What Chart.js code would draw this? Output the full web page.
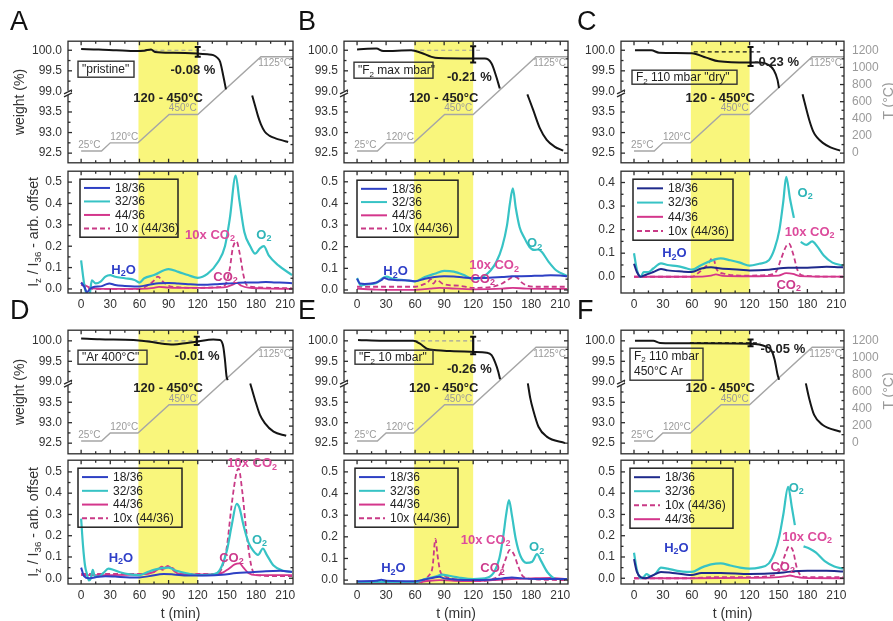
<!DOCTYPE html>
<html>
<head>
<meta charset="utf-8">
<script src="https://cdn.jsdelivr.net/npm/chart.js@4.4.0/dist/chart.umd.min.js"></script>
<style>
  body { margin: 0; background: #fff; width: 893px; height: 621px; position: relative; overflow: hidden;
         font-family: "Liberation Sans", Arial, Helvetica, sans-serif; color: #222; }
  canvas { position: absolute; }
  .txt { position: absolute; white-space: nowrap; line-height: 1; }
  .rot { position: absolute; white-space: nowrap; line-height: 1; font-size: 14px; color: #333;
         transform: translate(-50%, -50%) rotate(-90deg); }
  .ctr { position: absolute; white-space: nowrap; line-height: 1; font-size: 14px; color: #333;
         transform: translate(-50%, -50%); }
  sub { font-size: 70%; vertical-align: -3px; line-height: 0; }
</style>
</head>
<body>
<script>
// ---- shared axes / temperature programme ----
const X_MIN = -13.5, X_MAX = 218;
const X_TICKS = [0, 30, 60, 90, 120, 150, 180, 210];
const W_TICK_LABELS = ['92.5', '93.0', '93.5', '99.0', '99.5', '100.0'];
const T_TICKS = [0, 200, 400, 600, 800, 1000, 1200];
const TEMP_T = [0, 21, 30, 58.5, 90.5, 120, 185, 218];
const TEMP_C = [25, 25, 120, 120, 450, 450, 1125, 1125];
const BAND = [59, 120];

// ---- weight (%) vs t (min); null = axis break ----
const A_w = [[0,100.03],[18,100.02],[36,100.0],[57,99.98],[65,99.99],[72,100.02],[76,99.96],[95,99.94],[119,99.92],[130,99.9],[136,99.88],[140,99.82],[143,99.72],[146.5,99.35],[149,99.05],[160,null],[176,93.9],[179,93.65],[182,93.4],[185,93.2],[189,93.02],[194,92.92],[200,92.86],[207,92.81],[213,92.77]];
const B_w = [[0,100.02],[20,100.04],[27,99.98],[56,100.0],[66,99.94],[77,99.84],[84,99.81],[120,99.8],[132,99.8],[139,99.68],[144,99.35],[147.5,99.07],[160,null],[176,93.93],[182,93.55],[189,93.1],[196,92.82],[204,92.66],[213,92.56]];
const C_w = [[1,100.0],[18,100.0],[26,99.94],[60,99.93],[75,99.82],[88,99.73],[119,99.7],[131,99.7],[140,99.64],[145,99.52],[149,99.28],[150.5,99.08],[160,null],[175,93.93],[178,93.65],[182,93.3],[186,93.03],[190,92.88],[196,92.75],[204,92.64],[214,92.56]];
const D_w = [[0,100.06],[19,100.04],[54,100.02],[71,99.98],[81,99.94],[95,99.91],[109,99.95],[119,99.98],[136,100.03],[143,100.02],[146.3,99.85],[148,99.53],[149.7,99.12],[150.8,99.04],[160,null],[174,93.96],[179,93.55],[184,93.19],[189,92.99],[198,92.78],[211,92.68]];
const E_w = [[1,100.02],[27,100.0],[58,100.0],[65,99.93],[72,99.81],[82,99.77],[96,99.75],[120,99.73],[134,99.71],[139,99.65],[142.6,99.48],[146,99.24],[147.8,99.06],[160,null],[176.5,93.96],[179,93.6],[182,93.31],[187.5,92.9],[196,92.66],[215,92.5]];
const F_w = [[1,100.0],[20,100.0],[27,99.95],[58,99.94],[120,99.93],[130,99.91],[137,99.86],[142.6,99.77],[146,99.54],[149,99.18],[150.6,99.05],[160,null],[178.4,93.96],[181.8,93.6],[187,93.19],[195.6,92.95],[214.6,92.78]];

// reference line [from, to, weight] and error bar [t, high, low]
const A_ref = [60, 128, 100.0],  A_err = [120, 100.08, 99.84];
const B_ref = [58, 127, 100.0],  B_err = [120, 100.1, 99.7];
const C_ref = [62, 131, 99.96],  C_err = [121, 100.08, 99.62];
const D_ref = [60, 125, 100.0],  D_err = [119, 100.1, 99.9];
const E_ref = [59, 128, 100.0],  E_err = [120, 100.1, 99.67];
const F_ref = [58, 131, 99.95],  F_err = [121, 100.03, 99.87];

// ---- MS signals I_z/I_36 vs t (min) ----
const A_18 = [[0,0.03],[3,0.012],[6,-0.015],[9,0.0],[14,0.01],[20,0.012],[25,0.02],[29,0.026],[35,0.018],[45,0.014],[55,0.012],[60,0.012],[70,0.02],[80,0.027],[90,0.028],[100,0.025],[110,0.022],[120,0.02],[130,0.02],[140,0.022],[150,0.025],[160,0.028],[170,0.03],[180,0.03],[190,0.032],[200,0.03],[210,0.029],[217,0.027]];
const A_32 = [[0,0.134],[2,0.06],[4,0.0],[7,-0.03],[9,-0.02],[11,0.04],[15,0.026],[20,0.034],[25,0.058],[30,0.065],[35,0.057],[45,0.05],[55,0.042],[60,0.03],[65,0.05],[75,0.065],[90,0.093],[100,0.08],[110,0.065],[120,0.052],[130,0.07],[141,0.127],[148,0.2],[153,0.33],[159,0.53],[163,0.41],[168,0.265],[174,0.2],[179,0.165],[184,0.19],[188,0.2],[193,0.157],[203,0.11],[217,0.065]];
const A_44 = [[0,0.03],[5,0.015],[10,0.005],[20,0.0],[40,0.0],[60,0.0],[75,0.005],[80,0.01],[90,0.006],[100,0.005],[120,0.005],[140,0.006],[150,0.01],[156,0.02],[160,0.028],[165,0.015],[172,0.006],[185,0.003],[217,0.0]];
const A_10x = [[0,0.02],[5,0.01],[10,0.0],[30,0.0],[60,0.0],[68,0.015],[74,0.035],[79,0.058],[84,0.035],[90,0.015],[100,0.008],[120,0.005],[140,0.008],[148,0.018],[153,0.096],[156,0.19],[160,0.222],[163,0.17],[167,0.065],[170,0.02],[180,0.008],[217,0.003]];

const B_18 = [[0,0.052],[3,0.03],[8,0.028],[15,0.03],[20,0.035],[25,0.045],[28,0.055],[33,0.048],[45,0.045],[55,0.043],[60,0.04],[70,0.052],[80,0.06],[90,0.063],[100,0.062],[110,0.058],[120,0.055],[130,0.055],[140,0.058],[150,0.06],[160,0.063],[170,0.064],[180,0.065],[190,0.066],[200,0.068],[210,0.067],[217,0.063]];
const B_32 = [[0,0.055],[4,0.02],[8,0.025],[15,0.028],[20,0.032],[25,0.05],[30,0.062],[38,0.05],[50,0.045],[60,0.04],[70,0.06],[80,0.075],[90,0.088],[100,0.085],[110,0.07],[120,0.05],[130,0.06],[138,0.09],[144,0.13],[150,0.2],[155,0.3],[158,0.4],[161,0.47],[164,0.38],[168,0.29],[173,0.24],[178,0.2],[183,0.185],[187,0.187],[191,0.175],[198,0.13],[206,0.09],[217,0.065]];
const B_44 = [[0,0.006],[20,0.002],[60,0.0],[75,0.006],[85,0.01],[95,0.008],[120,0.003],[150,0.006],[161,0.01],[175,0.006],[217,0.005]];
const B_10x = [[0,0.015],[30,0.015],[60,0.015],[68,0.025],[73,0.035],[76,0.05],[79,0.03],[82,0.045],[85,0.04],[88,0.03],[95,0.022],[105,0.02],[120,0.01],[140,0.015],[150,0.03],[157,0.05],[162,0.062],[166,0.055],[170,0.035],[176,0.02],[185,0.015],[217,0.015]];

const C_18 = [[0,0.055],[3,0.02],[7,0.0],[10,0.005],[15,0.012],[20,0.02],[28,0.033],[35,0.027],[50,0.022],[60,0.02],[70,0.035],[80,0.04],[90,0.035],[110,0.03],[120,0.027],[140,0.03],[160,0.038],[180,0.038],[200,0.042],[217,0.04]];
const C_32 = [[0,0.1],[3,0.03],[7,0.0],[10,0.02],[15,0.02],[20,0.035],[28,0.057],[35,0.05],[45,0.045],[55,0.035],[60,0.03],[70,0.05],[85,0.075],[90,0.078],[100,0.07],[110,0.06],[120,0.047],[130,0.055],[140,0.07],[146,0.12],[151,0.2],[155,0.32],[158,0.424],[162,0.33],[166,0.25],[170,null],[173,0.148],[179,0.135],[185,0.15],[190,0.13],[197,0.09],[206,0.06],[217,0.048]];
const C_44 = [[0,0.0],[60,0.0],[80,0.005],[85,0.01],[92,0.004],[120,0.002],[150,0.005],[158,0.015],[165,0.012],[172,0.003],[217,0.0]];
const C_10x = [[0,0.0],[60,0.0],[68,0.02],[76,0.05],[82,0.08],[86,0.03],[95,0.012],[110,0.005],[120,0.005],[140,0.008],[148,0.025],[153,0.08],[158,0.13],[161,0.14],[165,0.1],[170,0.025],[176,0.005],[217,0.0]];

const D_18 = [[0,0.05],[3,0.01],[8,0.0],[15,0.005],[25,0.01],[35,0.008],[50,0.004],[60,0.004],[70,0.01],[85,0.02],[95,0.018],[110,0.013],[130,0.013],[145,0.016],[160,0.025],[175,0.028],[190,0.033],[205,0.035],[217,0.03]];
const D_32 = [[0,0.28],[2,0.15],[4,0.06],[6,0.02],[8,-0.01],[10,0.0],[12,0.04],[14,0.01],[18,0.008],[23,0.025],[28,0.045],[33,0.04],[40,0.028],[50,0.018],[60,0.015],[70,0.032],[80,0.045],[90,0.05],[98,0.035],[110,0.022],[120,0.015],[130,0.016],[140,0.025],[145,0.06],[150,0.13],[155,0.25],[160,0.35],[163,0.33],[167,0.25],[172,0.17],[177,0.13],[182,0.11],[187,0.14],[191,0.11],[198,0.06],[208,0.035],[217,0.03]];
const D_44 = [[0,0.015],[10,0.015],[30,0.015],[60,0.018],[75,0.03],[80,0.045],[83,0.055],[86,0.045],[89,0.058],[92,0.05],[95,0.045],[100,0.02],[115,0.018],[135,0.018],[145,0.025],[152,0.045],[158,0.065],[163,0.07],[167,0.05],[172,0.025],[180,0.015],[217,0.015]];
const D_10x = [[0,0.02],[30,0.02],[60,0.02],[75,0.03],[80,0.05],[84,0.04],[88,0.055],[92,0.05],[97,0.03],[105,0.02],[140,0.02],[145,0.05],[150,0.15],[155,0.35],[160,0.5],[162,0.515],[166,0.4],[170,0.22],[175,0.06],[180,0.015],[200,0.01],[217,0.01]];

const E_18 = [[0,-0.005],[20,-0.003],[25,0.002],[30,-0.003],[60,-0.005],[70,0.003],[80,0.012],[85,0.015],[90,0.008],[100,0.003],[120,0.0],[140,0.003],[150,0.008],[160,0.012],[170,0.008],[185,0.005],[217,0.005]];
const E_32 = [[0,-0.01],[30,-0.008],[60,-0.01],[70,0.005],[80,0.015],[88,0.025],[95,0.02],[105,0.012],[120,0.005],[135,0.012],[142,0.04],[147,0.1],[151,0.2],[154,0.3],[157,0.37],[160,0.3],[164,0.19],[169,0.11],[175,0.08],[181,0.085],[186,0.12],[190,0.09],[197,0.035],[206,0.005],[217,0.005]];
const E_44 = [[0,-0.015],[30,-0.015],[60,-0.012],[75,-0.003],[85,0.0],[100,-0.003],[120,-0.005],[140,0.0],[160,0.005],[180,0.008],[200,0.01],[217,0.005]];
const E_10x = [[0,-0.02],[30,-0.02],[60,-0.02],[68,-0.005],[74,0.02],[78,0.06],[81,0.19],[83,0.12],[86,0.04],[90,0.02],[100,0.005],[120,-0.005],[140,0.005],[148,0.03],[153,0.09],[158,0.14],[162,0.12],[166,0.07],[171,0.02],[180,0.005],[217,0.0]];

const F_18 = [[0,0.09],[3,0.03],[7,0.005],[12,0.0],[20,0.015],[28,0.03],[40,0.025],[60,0.015],[70,0.025],[90,0.025],[120,0.02],[150,0.025],[160,0.03],[180,0.035],[200,0.035],[217,0.032]];
const F_32 = [[0,0.12],[3,0.04],[7,0.0],[10,0.005],[13,0.02],[17,0.01],[22,0.02],[28,0.05],[35,0.045],[45,0.035],[55,0.03],[60,0.03],[70,0.05],[80,0.065],[90,0.07],[100,0.06],[110,0.05],[120,0.045],[130,0.05],[140,0.07],[146,0.12],[151,0.2],[155,0.3],[160,0.43],[164,0.33],[167,0.25],[171,null],[176,0.15],[182,0.14],[189,0.12],[198,0.08],[208,0.055],[217,0.045]];
const F_44 = [[0,0.0],[60,0.0],[120,0.002],[150,0.005],[158,0.01],[162,0.013],[167,0.008],[175,0.002],[217,0.0]];
const F_10x = [[0,0.0],[60,0.0],[80,0.005],[120,0.005],[140,0.01],[150,0.03],[156,0.1],[161,0.15],[165,0.13],[169,0.05],[174,0.01],[180,0.005],[217,0.005]];

// ---- layout ----
const FONT = '"Liberation Sans", Arial, Helvetica, sans-serif';
Chart.defaults.font.family = FONT;
const COL_L = [68, 344, 621], COL_W = [225, 224, 223];
const ROWS = [{top: 41, topH: 122, bot: 171, botH: 122, wr: [-0.47, 5.44]},
              {top: 330, topH: 124, bot: 460, botH: 124, wr: [-0.52, 5.52]}];
const ML = 50, MR = 50, MT = 6, MB_TOP = 4, MB_BOT = 24;
const NOTE_COL = {h2o: '#2f3fc8', o2: '#2fb5b8', co2x: '#dc4b9c', co2: '#cc3a8c'};

const PANELS = [
  {id: 'A', col: 0, row: 0, weight: A_w, ref: A_ref, err: A_err, refColor: '#a0a0a0', pct: ['-0.08 %', 115, 4.0],
   box: {dx: 10, dy: 20, w: 56, h: 16, lines: ['"pristine"']},
   ms: [A_18, A_32, A_44, A_10x], labels: ['18/36', '32/36', '44/36', '10 x (44/36)'], legOrder: [0, 1, 2, 3],
   blue: '#2e40c4', yr: [-0.019, 0.551], yt: [0, 0.1, 0.2, 0.3, 0.4, 0.5], leg: {dx: 12, dy: 8, w: 98, h: 58},
   notes: [['H_{2}O', 43.6, 0.089, 'h2o'], ['10x CO_{2}', 132.6, 0.252, 'co2x'], ['O_{2}', 188, 0.252, 'o2'], ['CO_{2}', 148.6, 0.056, 'co2']]},
  {id: 'B', col: 1, row: 0, weight: B_w, ref: B_ref, err: B_err, refColor: '#a0a0a0', pct: ['-0.21 %', 116, 3.69],
   box: {dx: 10, dy: 21, w: 79, h: 16, lines: ['"F_{2} max mbar"']},
   ms: [B_18, B_32, B_44, B_10x], labels: ['18/36', '32/36', '44/36', '10x (44/36)'], legOrder: [0, 1, 2, 3],
   blue: '#2e40c4', yr: [-0.014, 0.549], yt: [0, 0.1, 0.2, 0.3, 0.4, 0.5], leg: {dx: 13, dy: 9, w: 101, h: 57},
   notes: [['H_{2}O', 39.8, 0.084, 'h2o'], ['10x CO_{2}', 141.6, 0.112, 'co2x'], ['CO_{2}', 129.8, 0.051, 'co2'], ['O_{2}', 183.5, 0.215, 'o2']]},
  {id: 'C', col: 2, row: 0, weight: C_w, ref: C_ref, err: C_err, refColor: '#111', pct: ['-0.23 %', 148, 4.42], tAxis: true,
   box: {dx: 11, dy: 29, w: 105, h: 14, lines: ['F_{2} 110 mbar "dry"']},
   ms: [C_18, C_32, C_44, C_10x], labels: ['18/36', '32/36', '44/36', '10x (44/36)'], legOrder: [0, 1, 2, 3],
   blue: '#1f2a8c', yr: [-0.069, 0.448], yt: [0, 0.1, 0.2, 0.3, 0.4], leg: {dx: 12, dy: 8, w: 100, h: 61},
   notes: [['H_{2}O', 42, 0.1, 'h2o'], ['O_{2}', 177.7, 0.355, 'o2'], ['10x CO_{2}', 182.4, 0.19, 'co2x'], ['CO_{2}', 160.6, -0.035, 'co2']]},
  {id: 'D', col: 0, row: 1, weight: D_w, ref: D_ref, err: D_err, refColor: '#a0a0a0', pct: ['-0.01 %', 119.5, 4.22],
   box: {dx: 10, dy: 20, w: 69, h: 14, lines: ['"Ar 400°C"']},
   ms: [D_18, D_32, D_44, D_10x], labels: ['18/36', '32/36', '44/36', '10x (44/36)'], legOrder: [0, 1, 2, 3],
   blue: '#2e40c4', yr: [-0.027, 0.555], yt: [0, 0.1, 0.2, 0.3, 0.4, 0.5], leg: {dx: 10, dy: 8, w: 104, h: 59},
   notes: [['H_{2}O', 41, 0.095, 'h2o'], ['10x CO_{2}', 176, 0.541, 'co2x'], ['CO_{2}', 154.7, 0.095, 'co2'], ['O_{2}', 183.5, 0.18, 'o2']]},
  {id: 'E', col: 1, row: 1, weight: E_w, ref: E_ref, err: E_err, refColor: '#a0a0a0', pct: ['-0.26 %', 116, 3.62],
   box: {dx: 11, dy: 20, w: 78, h: 14, lines: ['"F_{2} 10 mbar"']},
   ms: [E_18, E_32, E_44, E_10x], labels: ['18/36', '32/36', '44/36', '10x (44/36)'], legOrder: [0, 1, 2, 3],
   blue: '#2e40c4', yr: [-0.018, 0.554], yt: [0, 0.1, 0.2, 0.3, 0.4, 0.5], leg: {dx: 11, dy: 8, w: 103, h: 59},
   notes: [['H_{2}O', 37.6, 0.055, 'h2o'], ['10x CO_{2}', 132.9, 0.185, 'co2x'], ['CO_{2}', 140.1, 0.055, 'co2'], ['O_{2}', 185.6, 0.152, 'o2']]},
  {id: 'F', col: 2, row: 1, weight: F_w, ref: F_ref, err: F_err, refColor: '#111', pct: ['-0.05 %', 154.5, 4.6], tAxis: true,
   box: {dx: 9, dy: 18, w: 73, h: 32, lines: ['F_{2} 110 mbar', '450°C Ar']},
   ms: [F_18, F_32, F_44, F_10x], labels: ['18/36', '32/36', '44/36', '10x (44/36)'], legOrder: [0, 1, 3, 2],
   blue: '#1f2a8c', yr: [-0.027, 0.555], yt: [0, 0.1, 0.2, 0.3, 0.4, 0.5], leg: {dx: 9, dy: 8, w: 103, h: 60},
   notes: [['H_{2}O', 44, 0.142, 'h2o'], ['O_{2}', 168.4, 0.424, 'o2'], ['10x CO_{2}', 179.8, 0.194, 'co2x'], ['CO_{2}', 154.4, 0.053, 'co2']]}
];

// broken weight axis: 92.5-94 below the break, 99-100.x above it (0.5 % per unit)
function wIdx(w) { return w === null ? null : (w > 96 ? 3 + (w - 99) * 2 : (w - 92.5) * 2); }
const pts = arr => arr.map(p => ({x: p[0], y: p[1]}));

function rich(ctx, str, x, y, size, weight, color, align, base) {
  const parts = []; const re = /_\{([^}]*)\}/g; let last = 0, m;
  while ((m = re.exec(str))) {
    if (m.index > last) parts.push([str.slice(last, m.index), false]);
    parts.push([m[1], true]); last = re.lastIndex;
  }
  if (last < str.length) parts.push([str.slice(last), false]);
  const f = sub => `${weight} ${sub ? Math.round(size * 0.7) : size}px ${FONT}`;
  let w = 0;
  parts.forEach(p => { ctx.font = f(p[1]); w += ctx.measureText(p[0]).width; });
  let cx = align === 'center' ? x - w / 2 : align === 'right' ? x - w : x;
  ctx.textAlign = 'left'; ctx.textBaseline = base || 'middle'; ctx.fillStyle = color;
  parts.forEach(p => { ctx.font = f(p[1]); ctx.fillText(p[0], cx, y + (p[1] ? size * 0.3 : 0)); cx += ctx.measureText(p[0]).width; });
}

function midpoints(vals) { const r = []; for (let i = 0; i < vals.length - 1; i++) r.push((vals[i] + vals[i + 1]) / 2); return r; }

function decor(o) {
  return {
    id: 'decor',
    beforeDatasetsDraw(chart) {
      const {ctx, chartArea: a} = chart, x = chart.scales.x;
      const x1 = x.getPixelForValue(BAND[0]), x2 = x.getPixelForValue(BAND[1]);
      ctx.save(); ctx.fillStyle = '#f9f67c'; ctx.fillRect(x1, a.top, x2 - x1, a.bottom - a.top); ctx.restore();
    },
    afterDatasetsDraw(chart) {
      const {ctx, chartArea: a, scales} = chart;
      ctx.save();
      ctx.strokeStyle = '#2b2b2b'; ctx.lineWidth = 1.3;
      ctx.strokeRect(a.left, a.top, a.right - a.left, a.bottom - a.top);
      // inward ticks
      const xs = scales.x;
      const tickX = (vals, len) => vals.forEach(v => {
        if (v < xs.min || v > xs.max) return; const px = xs.getPixelForValue(v);
        ctx.beginPath(); ctx.moveTo(px, a.bottom); ctx.lineTo(px, a.bottom - len);
        ctx.moveTo(px, a.top); ctx.lineTo(px, a.top + len); ctx.stroke();
      });
      tickX(X_TICKS, 4); tickX(X_TICKS.map(v => v + 15), 2.5);
      const tickY = (sc, vals, len, side) => vals.forEach(v => {
        const py = sc.getPixelForValue(v); ctx.beginPath();
        if (side === 'l') { ctx.moveTo(a.left, py); ctx.lineTo(a.left + len, py); }
        else { ctx.moveTo(a.right, py); ctx.lineTo(a.right - len, py); }
        ctx.stroke();
      });
      tickY(scales.y, o.yTicks, 4, 'l'); tickY(scales.y, midpoints(o.yTicks), 2.5, 'l');
      if (scales.yT) { tickY(scales.yT, T_TICKS, 4, 'r'); tickY(scales.yT, midpoints(T_TICKS), 2.5, 'r'); }
      else { tickY(scales.y, o.yTicks, 4, 'r'); tickY(scales.y, midpoints(o.yTicks), 2.5, 'r'); }
      // axis break mark
      if (o.brk) {
        const py = scales.y.getPixelForValue(2.93);
        ctx.fillStyle = '#fff'; ctx.fillRect(a.left - 3, py - 2, 6, 4);
        ctx.beginPath(); ctx.moveTo(a.left - 4, py + 1); ctx.lineTo(a.left + 4, py - 3);
        ctx.moveTo(a.left - 4, py + 4); ctx.lineTo(a.left + 4, py); ctx.stroke();
      }
      // text annotations
      (o.texts || []).forEach(t => {
        const sc = scales[t.scale || 'y'];
        rich(ctx, t.text, xs.getPixelForValue(t.x) + (t.ox || 0), sc.getPixelForValue(t.y) + (t.oy || 0),
             t.size, t.weight || 'normal', t.color, t.align || 'center', t.base);
      });
      // label box
      if (o.box) {
        const b = o.box, bx = a.left + b.dx, by = a.top + b.dy;
        ctx.strokeStyle = '#333'; ctx.lineWidth = 1.4; ctx.strokeRect(bx, by, b.w, b.h);
        b.lines.forEach((ln, i) => rich(ctx, ln, bx + 4, by + (b.lines.length > 1 ? 8 + i * 15 : b.h / 2 + 0.5), 12, 'normal', '#222', 'left'));
      }
      // legend
      if (o.leg) {
        const L = o.leg, lx = a.left + L.dx, ly = a.top + L.dy;
        ctx.strokeStyle = '#222'; ctx.lineWidth = 1.5; ctx.strokeRect(lx, ly, L.w, L.h);
        const step = (L.h - 4) / 4;
        o.legOrder.forEach((di, k) => {
          const ds = chart.data.datasets[di], yy = ly + 2 + step * (k + 0.5);
          ctx.strokeStyle = ds.borderColor; ctx.lineWidth = 2; ctx.setLineDash(ds.borderDash || []);
          ctx.beginPath(); ctx.moveTo(lx + 4, yy); ctx.lineTo(lx + 30, yy); ctx.stroke(); ctx.setLineDash([]);
          rich(ctx, ds.label, lx + 35, yy + 0.5, 12, 'normal', '#222', 'left');
        });
      }
      ctx.restore();
    }
  };
}

function addCanvas(l, t, w, h) {
  const c = document.createElement('canvas');
  c.width = w; c.height = h;
  c.style.left = l + 'px'; c.style.top = t + 'px'; c.style.width = w + 'px'; c.style.height = h + 'px';
  document.body.appendChild(c);
  return c;
}

// build a chart so that its plot area lands exactly on (L, T, W, H):
// draw once, measure the margins Chart.js used, then redraw on a canvas sized for them
function place(L, T, W, H, mb, makeCfg) {
  let cv = addCanvas(L - ML, T - MT, W + ML + MR, H + MT + mb);
  let ch = new Chart(cv, makeCfg());
  const a = ch.chartArea;
  const lm = a.left, tm = a.top, rm = cv.width - a.right, bm = cv.height - a.bottom;
  if (Math.abs(a.right - a.left - W) > 0.5 || Math.abs(a.bottom - a.top - H) > 0.5 || lm !== ML || tm !== MT) {
    ch.destroy(); cv.remove();
    cv = addCanvas(Math.round(L - lm), Math.round(T - tm), Math.round(W + lm + rm), Math.round(H + tm + bm));
    ch = new Chart(cv, makeCfg());
  }
  return ch;
}

const noAxisLine = {grid: {display: false, drawTicks: false}, border: {display: false}};

function topChart(p) {
  const L = COL_L[p.col], W = COL_W[p.col], R = ROWS[p.row];
  const ref = p.ref, err = p.err;
  place(L, R.top, W, R.topH, MB_TOP, () => ({
    type: 'line',
    data: {datasets: [
      {data: [{x: err[0], y: wIdx(err[1])}, {x: err[0], y: wIdx(err[2])}], yAxisID: 'y', borderColor: '#111', borderWidth: 2.2,
       pointRadius: 3, pointStyle: 'line', pointBorderColor: '#111', pointBorderWidth: 2},
      {data: p.weight.map(q => ({x: q[0], y: wIdx(q[1])})), yAxisID: 'y', borderColor: '#151515', borderWidth: 2,
       cubicInterpolationMode: 'monotone'},
      {data: [{x: ref[0], y: wIdx(ref[2])}, {x: ref[1], y: wIdx(ref[2])}], yAxisID: 'y', borderColor: p.refColor,
       borderWidth: 1.2, borderDash: [4, 3]},
      {data: TEMP_T.map((t, i) => ({x: t, y: TEMP_C[i]})), yAxisID: 'yT', borderColor: '#a6a6a6', borderWidth: 1.4}
    ]},
    options: {
      responsive: false, animation: false, devicePixelRatio: 1,
      elements: {point: {radius: 0}, line: {tension: 0}},
      layout: {padding: {top: MT, right: 0, bottom: MB_TOP, left: 0}},
      plugins: {legend: {display: false}, tooltip: {enabled: false}},
      scales: {
        x: {type: 'linear', min: X_MIN, max: X_MAX, display: false},
        y: {type: 'linear', position: 'left', min: R.wr[0], max: R.wr[1], ...noAxisLine,
            afterBuildTicks: s => { s.ticks = W_TICK_LABELS.map((_, i) => ({value: i})); },
            afterFit: s => { s.width = ML; },
            ticks: {color: '#333', padding: 6, font: {size: 12}, callback: v => W_TICK_LABELS[Math.round(v)]}},
        yT: {type: 'linear', position: 'right', min: R.wr[0] * 240, max: R.wr[1] * 240, ...noAxisLine,
             afterBuildTicks: s => { s.ticks = T_TICKS.map(v => ({value: v})); },
             afterFit: s => { s.width = MR; },
             ticks: {display: !!p.tAxis, autoSkip: false, color: '#9a9a9a', padding: 8, font: {size: 12},
                     callback: v => String(v)}}
      }
    },
    plugins: [decor({
      yTicks: [0, 1, 2, 3, 4, 5], brk: true, box: p.box,
      texts: [
        {text: '120 - 450°C', x: (BAND[0] + BAND[1]) / 2, y: 2.66, size: 13, weight: 'bold', color: '#222'},
        {text: p.pct[0], x: p.pct[1], y: p.pct[2], size: 13, weight: 'bold', color: '#222'},
        {text: '25°C', x: -3, y: 25, scale: 'yT', size: 10, color: '#9a9a9a', align: 'left', base: 'bottom', oy: -1},
        {text: '120°C', x: 30, y: 120, scale: 'yT', size: 10, color: '#9a9a9a', align: 'left', base: 'bottom', oy: -1},
        {text: '450°C', x: 119, y: 450, scale: 'yT', size: 10, color: '#9a9a9a', align: 'right', base: 'bottom', oy: -1},
        {text: '1125°C', x: 216, y: 1125, scale: 'yT', size: 10, color: '#9a9a9a', align: 'right', base: 'top', oy: 2}
      ]
    })]
  }));
}

function bottomChart(p) {
  const L = COL_L[p.col], W = COL_W[p.col], R = ROWS[p.row];
  const colors = [p.blue, '#37c3c5', '#d4368c', '#c93a86'];
  const widths = [2, 2.2, 1.8, 1.8];
  place(L, R.bot, W, R.botH, MB_BOT, () => ({
    type: 'line',
    data: {datasets: p.ms.map((arr, i) => ({
      label: p.labels[i], data: pts(arr), borderColor: colors[i], borderWidth: widths[i],
      borderDash: i === 3 ? [5, 3] : [], cubicInterpolationMode: 'monotone'
    }))},
    options: {
      responsive: false, animation: false, devicePixelRatio: 1,
      elements: {point: {radius: 0}},
      layout: {padding: {top: MT, right: MR, bottom: 0, left: 0}},
      plugins: {legend: {display: false}, tooltip: {enabled: false}},
      scales: {
        x: {type: 'linear', min: X_MIN, max: X_MAX, ...noAxisLine,
            afterBuildTicks: s => { s.ticks = X_TICKS.map(v => ({value: v})); },
            afterFit: s => { s.height = MB_BOT; },
            ticks: {color: '#333', padding: 4, font: {size: 12}, maxRotation: 0, autoSkip: false}},
        y: {type: 'linear', position: 'left', min: p.yr[0], max: p.yr[1], ...noAxisLine,
            afterBuildTicks: s => { s.ticks = p.yt.map(v => ({value: v})); },
            afterFit: s => { s.width = ML; },
            ticks: {color: '#333', padding: 6, font: {size: 12}, autoSkip: false, callback: v => v.toFixed(1)}}
      }
    },
    plugins: [decor({
      yTicks: p.yt, leg: p.leg, legOrder: p.legOrder,
      texts: p.notes.map(n => ({text: n[0], x: n[1], y: n[2], size: 13, weight: 'bold', color: NOTE_COL[n[3]]}))
    })]
  }));
}

PANELS.forEach(p => { topChart(p); bottomChart(p); });

// ---- panel letters and axis titles ----
function html(cls, x, y, inner, style) {
  const d = document.createElement('div'); d.className = cls; d.innerHTML = inner;
  d.style.left = x + 'px'; d.style.top = y + 'px'; if (style) d.style.cssText += style;
  document.body.appendChild(d);
}
[['A', 10, 8], ['B', 298, 8], ['C', 577, 8], ['D', 10, 297], ['E', 298, 297], ['F', 577, 297]]
  .forEach(l => html('txt', l[1], l[2], l[0], 'font-size:27px;color:#111'));
ROWS.forEach(R => {
  html('rot', 19, R.top + R.topH / 2, 'weight (%)');
  html('rot', 33, R.bot + R.botH / 2, 'I<sub>z</sub> / I<sub>36</sub> - arb. offset');
  html('rot', 888, R.top + R.topH / 2 - 1, 'T (°C)', 'color:#9a9a9a');
});
COL_L.forEach((l, i) => html('ctr', l + COL_W[i] / 2, 613, 't (min)'));
</script>
</body>
</html>
